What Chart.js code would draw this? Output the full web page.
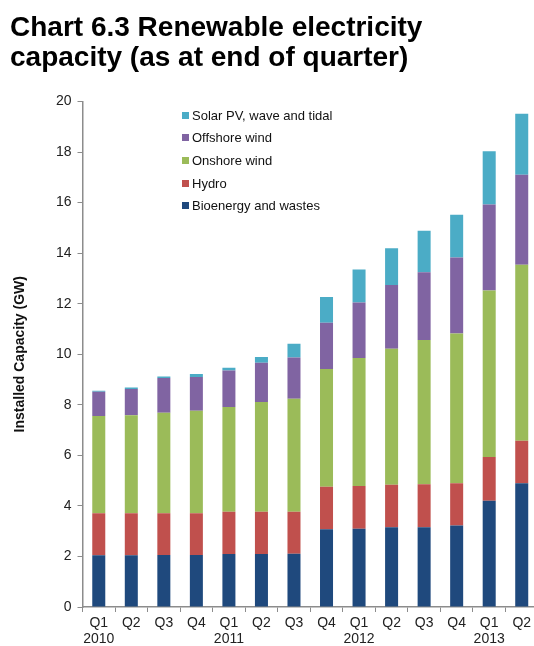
<!DOCTYPE html>
<html><head><meta charset="utf-8">
<script src="https://cdn.jsdelivr.net/npm/chart.js@4/dist/chart.umd.min.js"></script>
<style>
html,body{margin:0;padding:0;background:#fff;overflow:hidden;width:534px;height:646px;}
#wrap{position:absolute;left:0;top:0;width:540px;height:646px;}
#title{position:absolute;left:10px;top:12px;font:bold 28px/30px "Liberation Sans",Arial,sans-serif;color:#000;white-space:nowrap;}
#legend{position:absolute;left:182px;top:104px;font:13px "Liberation Sans",Arial,sans-serif;color:#111;}
.item{height:22.6px;display:flex;align-items:center;white-space:nowrap;}
.sw{width:7px;height:7px;margin-right:3px;flex:none;}
</style></head><body>
<div id="wrap"><canvas id="c"></canvas></div>
<div id="title">Chart 6.3 Renewable electricity<br>capacity (as at end of quarter)</div>
<div id="legend"></div>
<script>
// Categories
const quarters = ['Q1','Q2','Q3','Q4','Q1','Q2','Q3','Q4','Q1','Q2','Q3','Q4','Q1','Q2'];
const years    = ['2010','','','','2011','','','','2012','','','','2013',''];
// Series values (GW)
const bioenergy = [2.05,2.05,2.06,2.06,2.10,2.10,2.11,3.08,3.10,3.16,3.16,3.22,4.20,4.90];
const hydro     = [1.66,1.66,1.65,1.65,1.67,1.67,1.66,1.68,1.69,1.68,1.70,1.68,1.73,1.68];
const onshore   = [3.85,3.88,3.98,4.05,4.14,4.34,4.47,4.66,5.06,5.38,5.70,5.92,6.59,6.96];
const offshore  = [0.96,1.04,1.37,1.34,1.45,1.55,1.63,1.83,2.20,2.52,2.68,3.01,3.40,3.56];
const solar     = [0.04,0.05,0.06,0.12,0.11,0.23,0.55,1.02,1.30,1.45,1.65,1.69,2.11,2.42];
// Series names
const seriesNames = ['Bioenergy and wastes','Hydro','Onshore wind','Offshore wind','Solar PV, wave and tidal'];
// Y ticks
const yMin = 0, yMax = 20, yStep = 2;
const yTitle = 'Installed Capacity (GW)';

const colors = ['#1F497D','#C0504D','#9BBB59','#8064A2','#4BACC6'];
const seriesData = [bioenergy, hydro, onshore, offshore, solar];

const labels = quarters.map((q,i)=> years[i] ? [q, years[i]] : q);
const datasets = seriesData.map((d,i)=>({
  label: seriesNames[i], data: d, backgroundColor: colors[i],
  borderWidth: 0, barPercentage: 0.4, categoryPercentage: 1.0
}));

const axisColor = '#8c8c8c';
const font = {family: '"Liberation Sans", Arial, sans-serif', size: 14};

new Chart(document.getElementById('c'), {
  type: 'bar',
  data: {labels, datasets},
  options: {
    responsive: true, maintainAspectRatio: false, animation: false,
    layout: {padding: {top: 101.5, left: 0, right: 2, bottom: 0}},
    plugins: {legend: {display: false}, tooltip: {enabled: false}},
    scales: {
      x: {
        stacked: true,
        grid: {display: true, drawOnChartArea: false, drawTicks: true, tickLength: 5, color: axisColor, offset: true},
        border: {color: axisColor, width: 1.5},
        ticks: {color: '#222', font: {...font, lineHeight: 1.15}, padding: 3, autoSkip: false, maxRotation: 0},
        afterFit: s => { s.height = 39; }
      },
      y: {
        stacked: true, min: yMin, max: yMax,
        grid: {display: true, drawOnChartArea: false, drawTicks: true, tickLength: 5, color: axisColor},
        border: {color: axisColor, width: 1.5},
        ticks: {stepSize: yStep, color: '#222', font, padding: 6},
        title: {display: true, text: yTitle, color: '#111', font: {family: font.family, size: 14, weight: 'bold'}, padding: {top: 12, bottom: 0}},
        afterFit: s => { s.width = 82.5; }
      }
    }
  }
});

// Legend (reverse order, as in the reference)
const lg = document.getElementById('legend');
for (let i = seriesNames.length - 1; i >= 0; i--) {
  const it = document.createElement('div'); it.className = 'item';
  const sw = document.createElement('span'); sw.className = 'sw'; sw.style.background = colors[i];
  const tx = document.createElement('span'); tx.textContent = seriesNames[i];
  it.appendChild(sw); it.appendChild(tx); lg.appendChild(it);
}
</script>
</body></html>
